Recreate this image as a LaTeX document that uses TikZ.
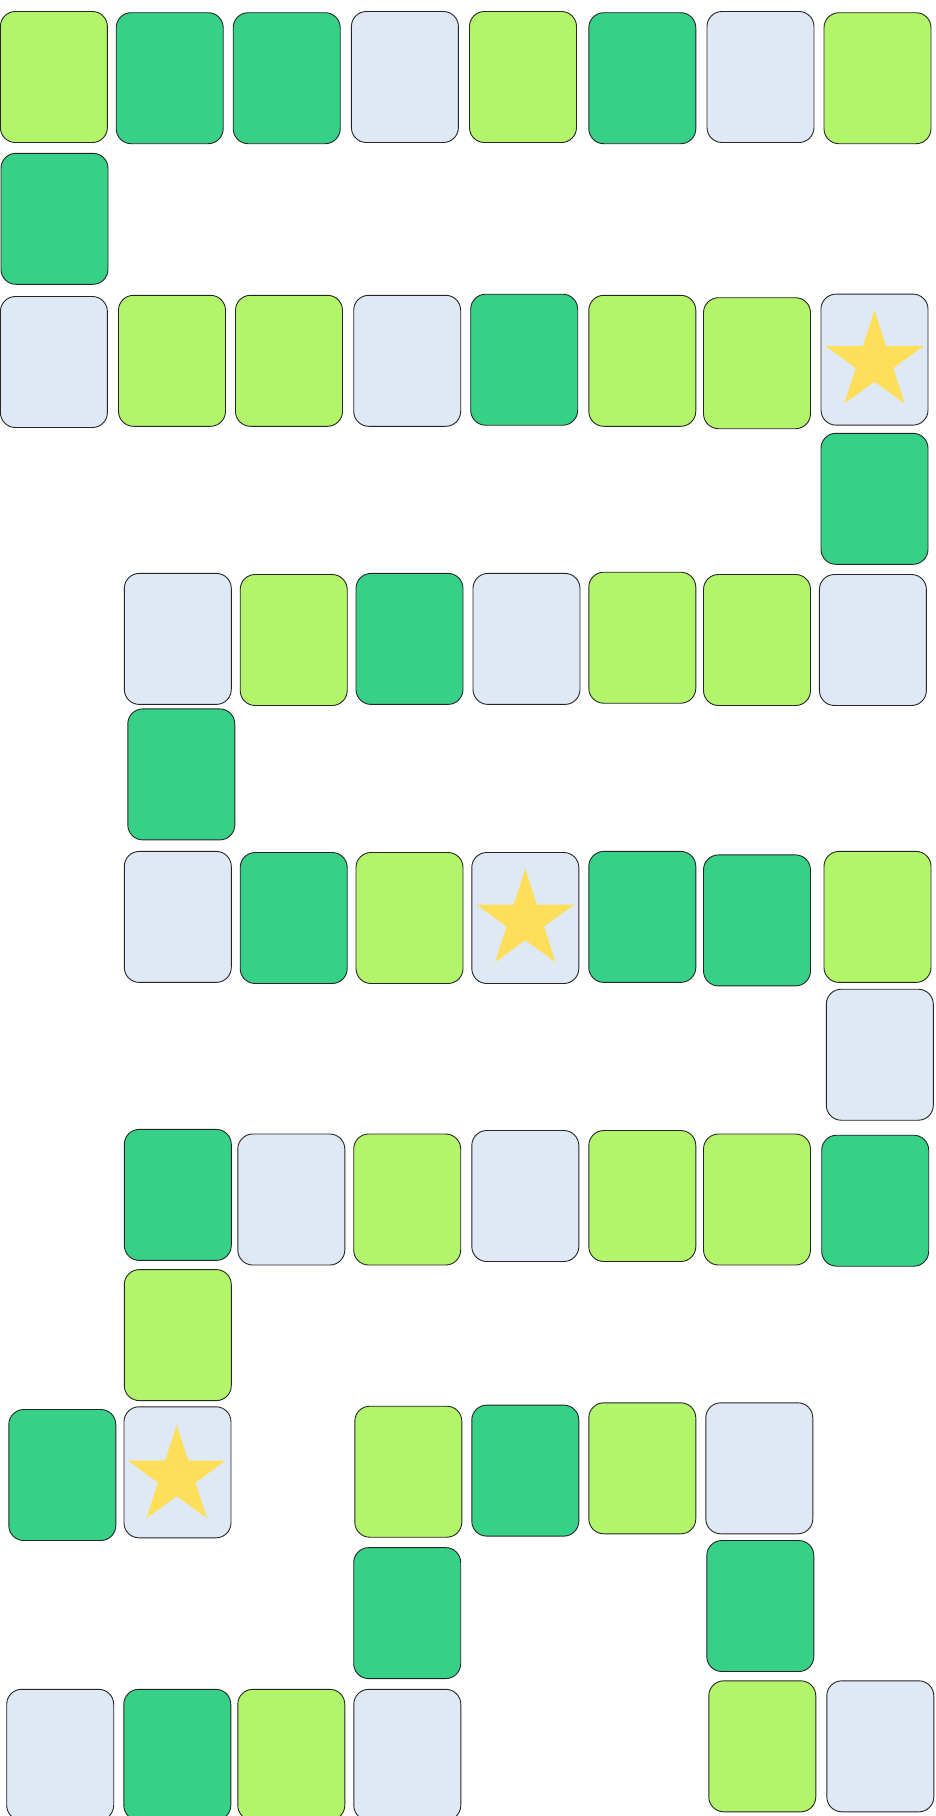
\documentclass[tikz,border=0pt]{standalone}
\usepackage{xcolor}
\usetikzlibrary{shapes.geometric}
\definecolor{tileLime}{HTML}{B2F46A}
\definecolor{tileJade}{HTML}{36D187}
\definecolor{tileSky}{HTML}{DEE9F5}
\definecolor{starGold}{HTML}{FFDE59}
\begin{document}
\begin{tikzpicture}[x=1pt,y=-1pt]
\tikzset{
  tile/.style={draw=black!85,line width=0.9pt,rounded corners=15pt,minimum width=107pt,minimum height=131pt,inner sep=0pt},
  lime/.style={tile,fill=tileLime},
  jade/.style={tile,fill=tileJade},
  sky/.style={tile,fill=tileSky},
  bonus/.style={star,star points=5,star point ratio=2.618,minimum size=103pt,inner sep=0pt,fill=starGold}
}
\useasboundingbox[fill=white](0,0) rectangle (936,1816);
% row 1
\node(a1)[lime] at (53.9,77.0){};
\node(a2)[jade] at (169.7,78.2){};
\node(a3)[jade] at (286.7,78.2){};
\node(a4)[sky] at (404.9,77.0){};
\node(a5)[lime] at (523.0,77.0){};
\node(a6)[jade] at (642.3,78.2){};
\node(a7)[sky] at (760.5,77.0){};
\node(a8)[lime] at (877.5,78.2){};
\node(a9)[jade] at (54.5,218.8){};
% row 2
\node(b1)[sky] at (53.9,362.0){};
\node(b2)[lime] at (172.0,360.8){};
\node(b3)[lime] at (289.0,360.8){};
\node(b4)[sky] at (407.2,360.8){};
\node(b5)[jade] at (524.2,359.7){};
\node(b6)[lime] at (642.3,360.8){};
\node(b7)[lime] at (757.0,363.2){};
\node(b8)[sky] at (874.5,359.6){};
\node(b8s)[bonus] at (874.5,362){};
\node(b9)[jade] at (874.5,498.8){};
% row 3
\node(c1)[sky] at (177.8,638.9){};
\node(c2)[lime] at (293.7,640.0){};
\node(c3)[jade] at (409.5,638.9){};
\node(c4)[sky] at (526.5,638.9){};
\node(c5)[lime] at (642.3,637.7){};
\node(c6)[lime] at (757.0,640.0){};
\node(c7)[sky] at (872.9,640.0){};
\node(c8)[jade] at (181.3,774.4){};
% row 4
\node(d1)[sky] at (177.8,916.9){};
\node(d2)[jade] at (293.7,918.0){};
\node(d3)[lime] at (409.5,918.0){};
\node(d4)[sky] at (525.3,918.0){};
\node(d4s)[bonus] at (525.3,920.5){};
\node(d5)[jade] at (642.3,916.9){};
\node(d6)[jade] at (757.0,920.4){};
\node(d7)[lime] at (877.5,916.9){};
\node(d8)[sky] at (879.8,1054.7){};
% row 5
\node(e1)[jade] at (177.8,1194.9){};
\node(e2)[sky] at (291.3,1199.5){};
\node(e3)[lime] at (407.2,1199.5){};
\node(e4)[sky] at (525.3,1196.0){};
\node(e5)[lime] at (642.3,1196.0){};
\node(e6)[lime] at (757.0,1199.5){};
\node(e7)[jade] at (875.2,1200.7){};
\node(e8)[lime] at (177.8,1335.1){};
% row 6
\node(f1)[jade] at (62.3,1475.0){};
\node(f2)[sky] at (177.5,1472.3){};
\node(f2s)[bonus] at (176.7,1476.5){};
\node(f3)[lime] at (408.3,1471.7){};
\node(f4)[jade] at (525.3,1470.6){};
\node(f5)[lime] at (642.3,1468.3){};
\node(f6)[sky] at (759.3,1468.3){};
\node(f7)[jade] at (407.2,1613.1){};
\node(f8)[jade] at (760.3,1606.0){};
% row 7
\node(g1)[sky] at (60.2,1754.8){};
\node(g2)[jade] at (177.3,1754.8){};
\node(g3)[lime] at (291.3,1754.8){};
\node(g4)[sky] at (407.3,1754.8){};
\node(g5)[lime] at (762.3,1746.3){};
\node(g6)[sky] at (880.3,1746.3){};
\end{tikzpicture}
\end{document}
